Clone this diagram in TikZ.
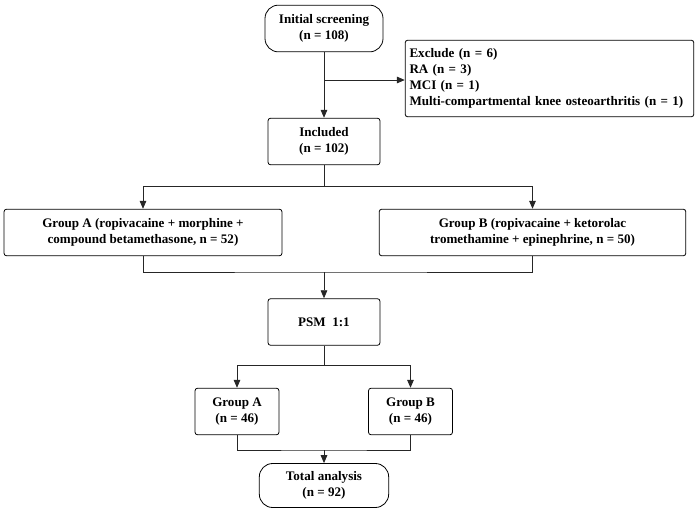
\documentclass[tikz,border=0pt]{standalone}
\usepackage{fontspec}
\setmainfont{Liberation Serif}
\usetikzlibrary{arrows.meta}
\tikzset{box/.style={draw,semithick,rounded corners=2pt,align=center,inner sep=0pt,font=\fontsize{9.8}{12}\selectfont\bfseries}}
\tikzset{term/.style={box,rounded corners=10pt}}
\tikzset{line/.style={semithick,draw=black!85}}
\tikzset{arr/.style={line,-{Triangle[length=6pt,width=5pt]}}}
\begin{document}
\begin{tikzpicture}[x=0.75pt,y=-0.75pt]
  \useasboundingbox (0,0) rectangle (700,508);
  % Boxes
  \node[term,minimum width=88.5pt,minimum height=35pt] (init) at (324,28.5) {Initial screening\\(n = 108)};
  \node[box,minimum width=216.5pt,minimum height=57.5pt,align=left,text width=210pt] (excl) at (549.5,78.5)
    {Exclude (n = 6)\\RA (n = 3)\\MCI (n = 1)\\Multi-compartmental knee osteoarthritis (n = 1)};
  \node[box,minimum width=84pt,minimum height=35pt] (incl) at (324,141.5) {Included\\(n = 102)};
  \node[box,minimum width=208.5pt,minimum height=35pt] (gA) at (143,232.5) {Group A (ropivacaine + morphine +\\compound betamethasone, n = 52)};
  \node[box,minimum width=230pt,minimum height=35pt] (gB) at (532.5,232.5) {Group B (ropivacaine + ketorolac\\tromethamine + epinephrine, n = 50)};
  \node[box,minimum width=84pt,minimum height=35pt] (psm) at (324,322) {PSM\ \ 1:1};
  \node[box,minimum width=63pt,minimum height=35pt] (sA) at (237,411.5) {Group A\\(n = 46)};
  \node[box,minimum width=63pt,minimum height=35pt] (sB) at (410.5,411.5) {Group B\\(n = 46)};
  \node[term,minimum width=97pt,minimum height=33pt] (total) at (324,485.5) {Total analysis\\(n = 92)};
  % Connectors
  \coordinate (j1) at (324,80);
  \draw[arr] (init) -- (incl);
  \draw[arr] (j1) -- (excl.west |- j1);
  \coordinate (s1) at (324,186);
  \draw[line] (incl) -- (s1);
  \draw[arr] (gA.north |- s1) -| (gA.north);
  \draw[arr] (s1) -| (gB.north);
  \draw[line] (gA.north |- s1) -- (s1);
  \coordinate (m1) at (324,272);
  \draw[line] (gA.south) |- (m1) -| (gB.south);
  \draw[arr] (m1) -- (psm);
  \coordinate (s2) at (324,365);
  \draw[line] (psm) -- (s2);
  \draw[arr] (s2) -| (sA.north);
  \draw[arr] (s2) -| (sB.north);
  \coordinate (m2) at (324,450);
  \draw[line] (sA.south) |- (m2) -| (sB.south);
  \draw[arr] (m2) -- (total);
\end{tikzpicture}
\end{document}
